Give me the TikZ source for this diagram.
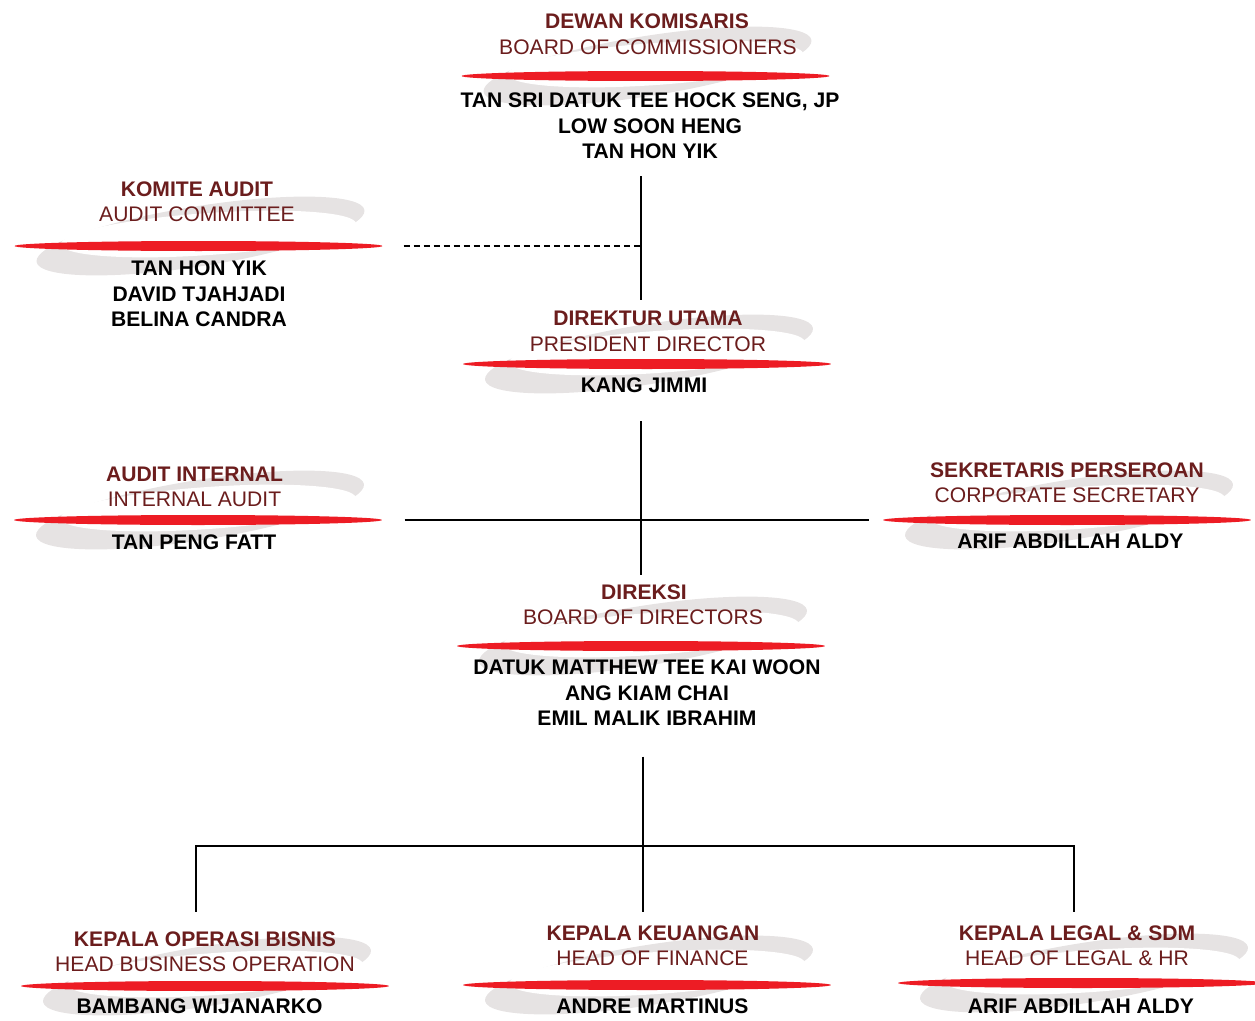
\documentclass[tikz,border=0pt]{standalone}
\usepackage{fontspec}
\setmainfont{Liberation Sans}
\usetikzlibrary{shapes.geometric}

\definecolor{marun}{HTML}{6B1D1D}
\definecolor{merah}{HTML}{ED1C24}
\definecolor{abu}{HTML}{E6E3E3}

% grey swoosh behind each position, at bar centre (#1,#2)
\newcommand{\ekor}[2]{%
  \fill[abu, rotate around={9:({#1+2},{#2-10})}] ({#1+2},{#2-10}) ellipse [x radius=166, y radius=30];
  \fill[white, rotate around={4:({#1+10},{#2-12})}] ({#1+10},{#2-12}) ellipse [x radius=148, y radius=21];
}

\begin{document}
\begin{tikzpicture}[x=0.02cm, y=-0.02cm,
                    line width=0.8pt,
                    ]
    \tikzstyle{judul}=[anchor=base, inner sep=0pt, text=marun, font=\fontsize{12}{14.46}\selectfont\bfseries]
    \tikzstyle{subjudul}=[judul, font=\fontsize{12}{14.46}\selectfont]
    \tikzstyle{nama}=[anchor=north, inner sep=0pt, align=center, text=black, font=\fontsize{12}{14.46}\selectfont\bfseries]
    \tikzstyle{palang}=[ellipse, fill=merah, inner sep=0pt, minimum width=7.36cm, minimum height=0.2cm]
    \tikzstyle{garis}=[draw=black, line width=0.8pt]
    \tikzstyle{putus}=[garis, dash pattern=on 3.4pt off 2.3pt]

    \useasboundingbox (0,0) rectangle (1255,1021);

    \ekor{645.5}{76}
    \ekor{198.5}{246}
    \ekor{647}{364}
    \ekor{198}{520}
    \ekor{1067}{520}
    \ekor{641}{646}
    \ekor{205}{986}
    \ekor{647}{985}
    \ekor{1082}{983}

    % dewan komisaris
    \node[judul] (dk-j) at (647,28.5) {DEWAN KOMISARIS};
    \node[subjudul] (dk-s) at (648,54.5) {BOARD OF COMMISSIONERS};
    \node[palang] (dk-p) at (645.5,76) {};
    \node[nama] (dk-n) at (650,92.4) {TAN SRI DATUK TEE HOCK SENG, JP\\LOW SOON HENG\\TAN HON YIK};

    % komite audit
    \node[judul] (ka-j) at (197,196.5) {KOMITE AUDIT};
    \node[subjudul] (ka-s) at (197,221.5) {AUDIT COMMITTEE};
    \node[palang] (ka-p) at (198.5,246) {};
    \node[nama] (ka-n) at (199,260.4) {TAN HON YIK\\DAVID TJAHJADI\\BELINA CANDRA};

    % direktur utama
    \node[judul] (du-j) at (648,325.5) {DIREKTUR UTAMA};
    \node[subjudul] (du-s) at (648,351.5) {PRESIDENT DIRECTOR};
    \node[palang] (du-p) at (647,364) {};
    \node[nama] (du-n) at (644,377.4) {KANG JIMMI};

    % audit internal
    \node[judul] (ai-j) at (194.5,481.5) {AUDIT INTERNAL};
    \node[subjudul] (ai-s) at (194.5,506.5) {INTERNAL AUDIT};
    \node[palang] (ai-p) at (198,520) {};
    \node[nama] (ai-n) at (194,534.4) {TAN PENG FATT};

    % sekretaris perseroan
    \node[judul] (sp-j) at (1067,477.5) {SEKRETARIS PERSEROAN};
    \node[subjudul] (sp-s) at (1067,502.5) {CORPORATE SECRETARY};
    \node[palang] (sp-p) at (1067,520) {};
    \node[nama] (sp-n) at (1070.5,533.4) {ARIF ABDILLAH ALDY};

    % direksi
    \node[judul] (dx-j) at (644,599.5) {DIREKSI};
    \node[subjudul] (dx-s) at (643,624.5) {BOARD OF DIRECTORS};
    \node[palang] (dx-p) at (641,646) {};
    \node[nama] (dx-n) at (647,659.4) {DATUK MATTHEW TEE KAI WOON\\ANG KIAM CHAI\\EMIL MALIK IBRAHIM};

    % kepala operasi bisnis
    \node[judul] (kob-j) at (205,946.5) {KEPALA OPERASI BISNIS};
    \node[subjudul] (kob-s) at (205,971.5) {HEAD BUSINESS OPERATION};
    \node[palang] (kob-p) at (205,986) {};
    \node[nama] (kob-n) at (199.5,998.4) {BAMBANG WIJANARKO};

    % kepala keuangan
    \node[judul] (kk-j) at (653,940.5) {KEPALA KEUANGAN};
    \node[subjudul] (kk-s) at (652.5,965.5) {HEAD OF FINANCE};
    \node[palang] (kk-p) at (647,985) {};
    \node[nama] (kk-n) at (652.5,998.4) {ANDRE MARTINUS};

    % kepala legal
    \node[judul] (kl-j) at (1077,940.5) {KEPALA LEGAL \& SDM};
    \node[subjudul] (kl-s) at (1077,965.5) {HEAD OF LEGAL \& HR};
    \node[palang] (kl-p) at (1082,983) {};
    \node[nama] (kl-n) at (1081,998.4) {ARIF ABDILLAH ALDY};

    \coordinate (poros) at (641,0);
    \coordinate (tengah) at (643,846);
    \coordinate (kiri) at (196,846);
    \coordinate (kanan) at (1074,846);

    \path[garis, shorten <=9.4pt, shorten >=5.8pt] (dk-n.south -| poros) -- (du-j.north -| poros);
    \path[putus, shorten <=11.6pt] (ka-p.east) -- (ka-p.east -| poros);
    \path[garis, shorten <=15.6pt, shorten >=5.3pt] (du-n.south -| poros) -- (dx-j.north -| poros);
    \path[garis, shorten <=12.5pt, shorten >=7.4pt] (ai-p.east) -- (sp-p.west);
    \path[garis, shorten <=17.3pt, shorten >=7.5pt] (dx-n.south -| tengah) -- (kk-j.north -| tengah);
    \path[garis, shorten >=11pt] (tengah) -- (kiri) -- (kiri |- kob-j.north);
    \path[garis, shorten >=7.5pt] (tengah) -- (kanan) -- (kanan |- kl-j.north);
\end{tikzpicture}
\end{document}
